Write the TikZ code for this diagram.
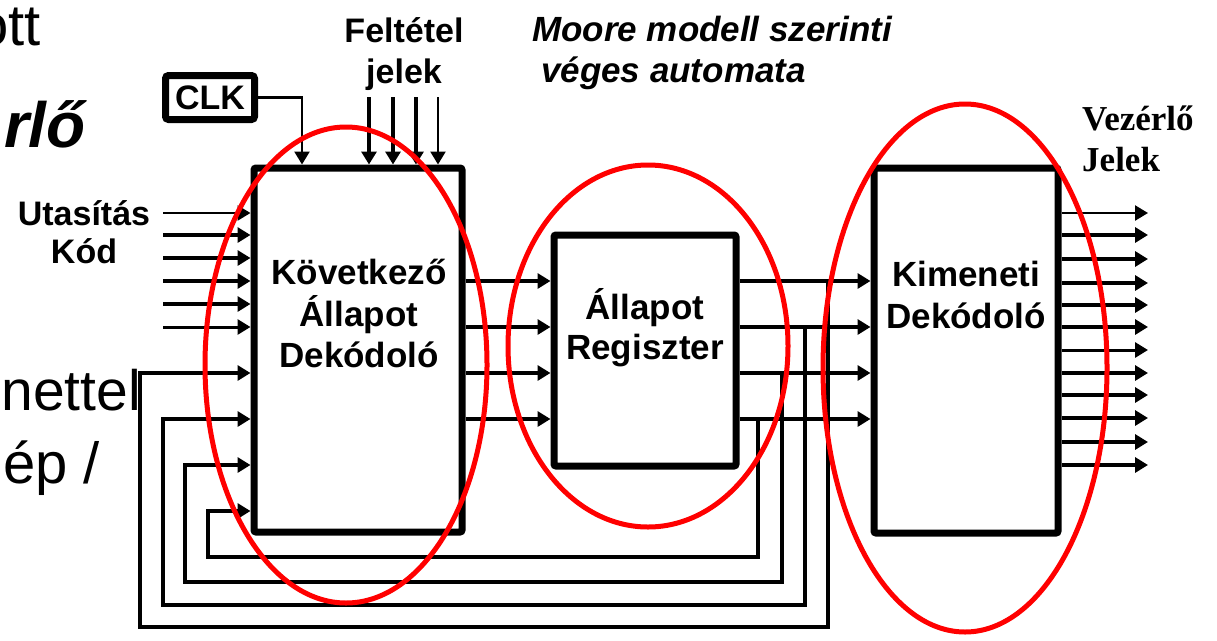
\documentclass[tikz,border=0pt]{standalone}
\usepackage{fontspec}
\setmainfont{Liberation Sans}
\newfontfamily\serifbf{Liberation Serif}
\usetikzlibrary{arrows.meta}

\tikzset{
  blk/.style={draw, line width=7pt, rounded corners=2pt, inner sep=0pt},
  lbl/.style={font=\bfseries\fontsize{35}{41.5}\selectfont, align=center, inner sep=0pt, anchor=north},
  sig/.style={-{Triangle[length=13pt, width=15pt]}, line width=#1},
  sig/.default=3.5pt,
  redring/.style={red, line width=5pt},
  bgtext/.style={inner sep=0pt, anchor=base east}
}

\begin{document}
\begin{tikzpicture}[x=1pt, y=-1pt]
  \useasboundingbox (0,0) rectangle (1217,640);

  % slide text behind the diagram
  \node[bgtext, font=\fontsize{58}{60}\selectfont] (bg1) at (41,45) {ott};
  \node[bgtext, font=\bfseries\itshape\fontsize{64}{66}\selectfont] (bg2) at (86,147) {rlő};
  \node[bgtext, font=\fontsize{57}{60}\selectfont] (bg3) at (141,410) {nettel};
  \node[bgtext, font=\fontsize{58}{60}\selectfont] (bg4) at (100,483) {ép /};

  % blocks
  \node[blk, minimum width=208pt, minimum height=364pt] (nsd) at (358,350) {};
  \node[blk, minimum width=182pt, minimum height=231pt] (reg) at (645,350.5) {};
  \node[blk, minimum width=184pt, minimum height=365pt] (outd) at (966,350.5) {};
  \node[blk, minimum width=89pt, minimum height=44pt, rounded corners=3pt,
        font=\bfseries\fontsize{34}{40}\selectfont] (clk) at (210,97.5) {CLK};

  \node[lbl] (nsdtxt) at (359,259) {Következő\\Állapot\\Dekódoló};
  \node[lbl, font=\bfseries\fontsize{35}{40}\selectfont] (regtxt) at (645,288) {Állapot\\Regiszter};
  \node[lbl] (outdtxt) at (966,261) {Kimeneti\\Dekódoló};

  % labels
  \node[lbl, font=\bfseries\fontsize{34}{38}\selectfont] (code) at (84,200) {Utasítás\\Kód};
  \node[lbl, font=\bfseries\fontsize{34}{41}\selectfont] (cond) at (404,17) {Feltétel\\jelek};
  \node[lbl, font=\bfseries\itshape\fontsize{35}{41}\selectfont, align=left, anchor=north west]
    (title) at (532,16) {Moore modell szerinti\\\hspace*{9pt}véges automata};
  \node[lbl, font=\serifbf\bfseries\fontsize{35}{41}\selectfont, align=left, anchor=north west]
    (outlbl) at (1082,106) {Vezérlő\\Jelek};

  % instruction code
  \foreach \y/\w in {213/2.5pt, 235/4.5pt, 258/4.5pt, 281/4.5pt, 304/4.5pt, 327/3pt} {
    \coordinate (in\y) at (163,\y);
    \draw[sig=\w] (in\y) -- (nsd.west |- in\y);
  }

  % condition signals and clock
  \foreach \x/\w in {369/4.5pt, 393/4.5pt, 416/3.5pt, 438/2.5pt} {
    \coordinate (cnd\x) at (\x,97);
    \draw[sig=\w] (cnd\x) -- (cnd\x |- nsd.north);
  }
  \coordinate (clkin) at (302,97);
  \draw[sig=2.5pt] (clk.east) -| (clkin |- nsd.north);

  % state bits
  \foreach \y/\w in {281/4.5pt, 327/3.5pt, 373/4.5pt, 419/4pt} {
    \draw[sig=\w] (nsd.east |- 0,\y) -- (reg.west |- 0,\y);
    \draw[sig=\w] (reg.east |- 0,\y) -- (outd.west |- 0,\y);
  }

  % feedback to the next state decoder
  \foreach \tx/\ty/\lx/\by/\iy in {758/419/208/557/511, 782/373/185/582/465,
                                    805/327/163/605/419, 828/281/140/627/373} {
    \coordinate (tap\tx) at (\tx,\ty);
    \draw[sig=3.5pt] (tap\tx) |- (\lx,\by) |- (nsd.west |- 0,\iy);
  }

  % control signals
  \foreach \y/\w in {213/2.5pt, 235/4pt, 259/4.5pt, 283/4.5pt, 305/4.5pt, 327/3.5pt,
                     350/3pt, 373/4.5pt, 395/4.5pt, 418/4.5pt, 442/4pt, 465/3.5pt} {
    \coordinate (out\y) at (1148,\y);
    \draw[sig=\w] (outd.east |- out\y) -- (out\y);
  }

  % red ovals
  \draw[redring] (346,365) ellipse [x radius=141pt, y radius=238pt];
  \draw[redring] (648,346) ellipse [x radius=140pt, y radius=181pt];
  \draw[redring] (965,368) ellipse [x radius=142pt, y radius=264pt];
\end{tikzpicture}
\end{document}
